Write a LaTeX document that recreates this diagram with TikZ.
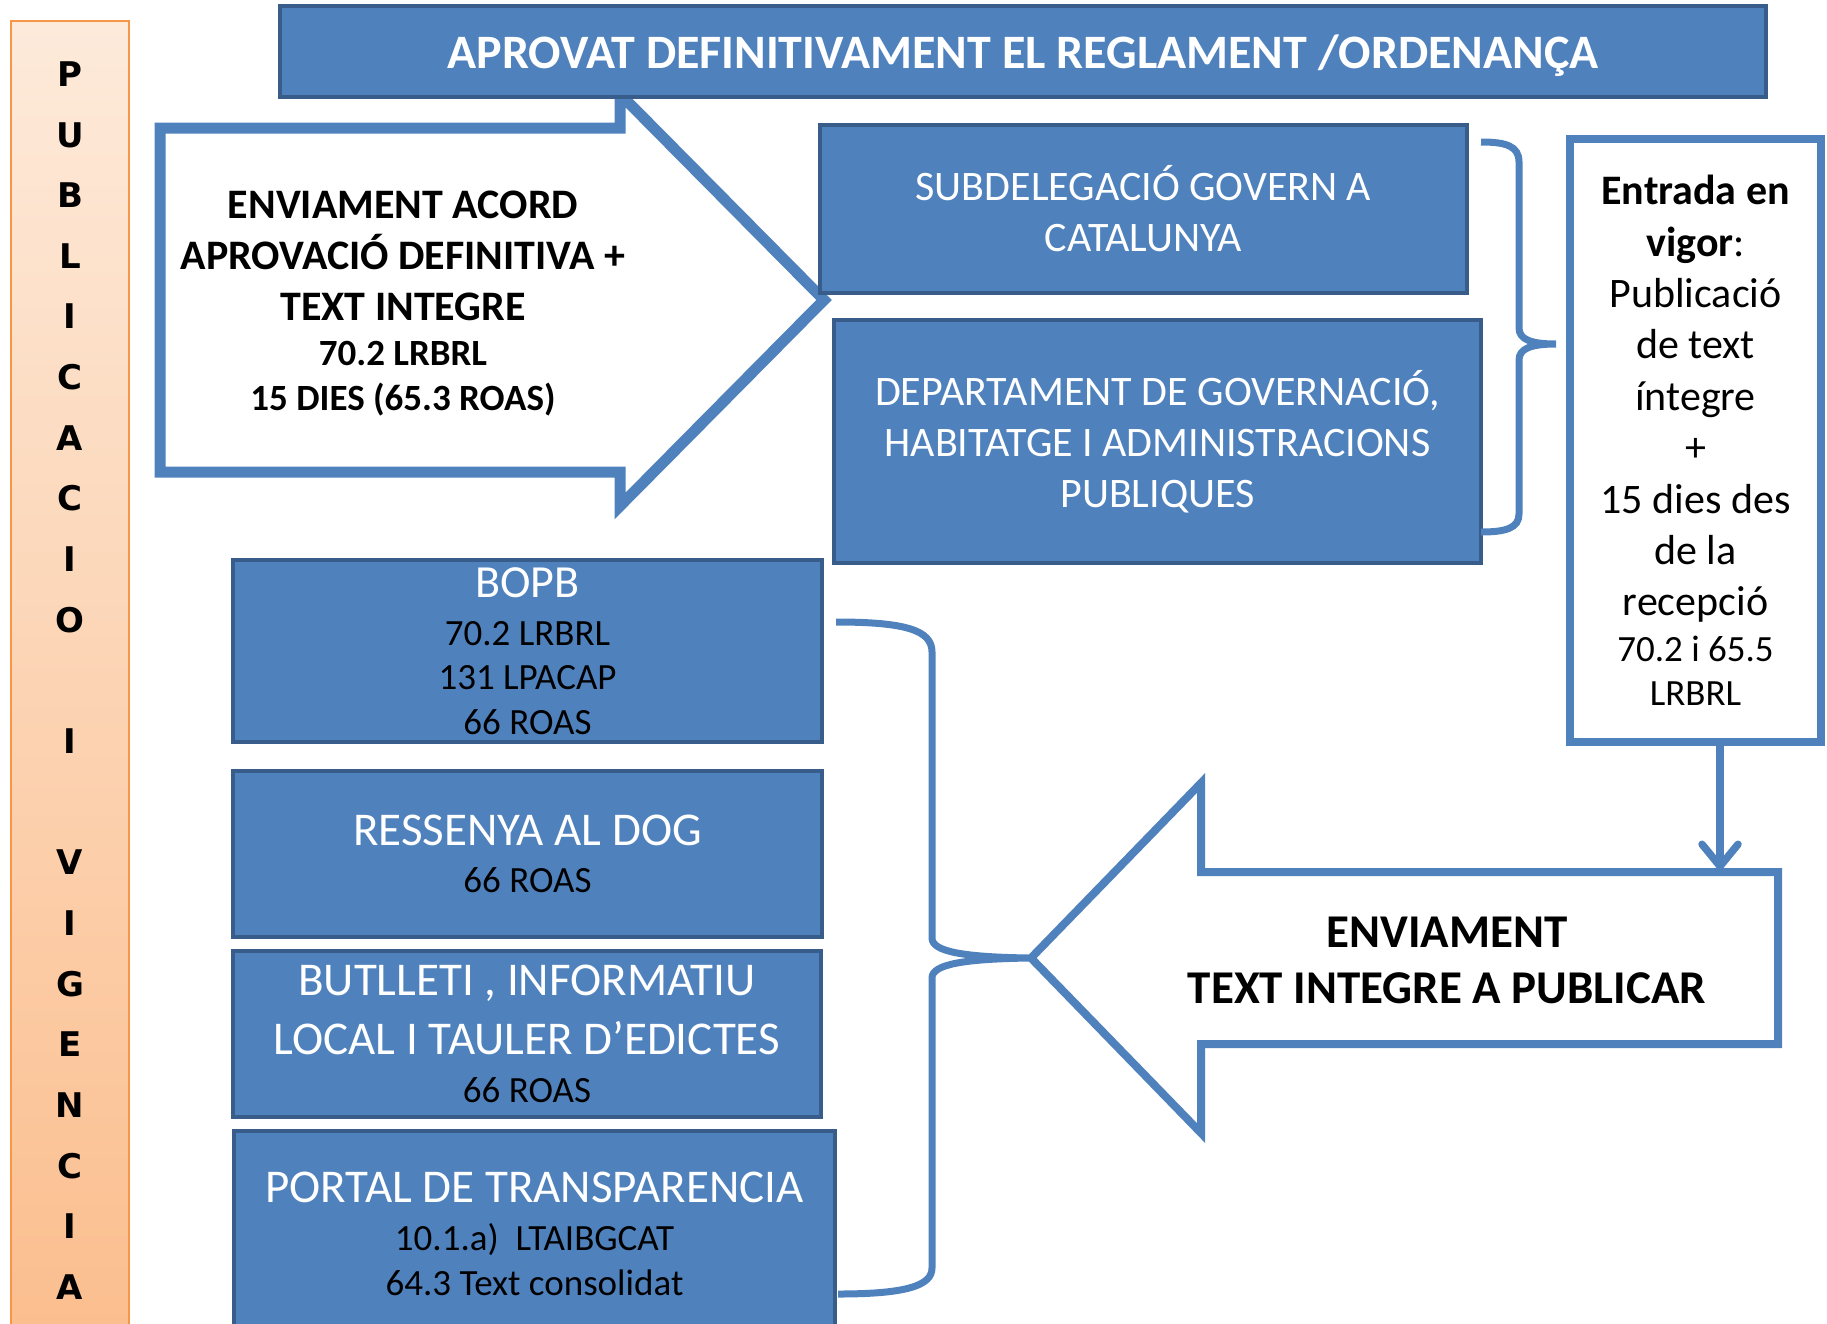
\documentclass[tikz,border=0pt]{standalone}
\usepackage{fontspec}
\setmainfont{Carlito}
\newfontfamily\vfont{DejaVu Sans}
\usetikzlibrary{arrows.meta}
\definecolor{boxblue}{HTML}{4F81BD}
\definecolor{boxedge}{HTML}{385D8A}
\definecolor{barline}{HTML}{F79646}
\definecolor{bartop}{HTML}{FDEADA}
\definecolor{barbot}{HTML}{FBBE8E}
\setlength{\parindent}{0pt}
\newcommand\setfs[2]{\fontsize{#1}{#2}\selectfont}
\newcommand\natspaces{\spaceskip=0pt\xspaceskip=0pt\relax}
\begin{document}
\begin{tikzpicture}[x=1pt,y=-1pt,
  ctext/.style={text width=#1, execute at begin node={\centering\natspaces}},
  bluebox/.style={draw=boxedge, line width=4pt, fill=boxblue, inner sep=0pt, text=white},
  arrowshape/.style={draw=boxblue, fill=white},
  bracestyle/.style={draw=boxblue, line width=7pt},
  conn/.style={draw=boxblue, line width=7.5pt, -{Straight Barb[length=22pt,width=36pt,round]}},
  vbar/.style={draw=barline, line width=2.5pt, top color=bartop, bottom color=barbot, inner sep=0pt},
  plaintext/.style={inner sep=0pt, text=black}]
\useasboundingbox (0,0) rectangle (1827,1323);
\clip (0,0) rectangle (1827,1323);

% vertical orange bar
\node[vbar, minimum width=118, minimum height=1319, ctext=100,
      font=\vfont\bfseries\setfs{34}{60.65}] (bar) at (70,680.5)
 {P\par U\par B\par L\par I\par C\par A\par C\par I\par O\par\mbox{}\par I\par\mbox{}\par V\par I\par G\par E\par N\par C\par I\par A\par};

% first (right-pointing) arrow
\draw[arrowshape, line width=11pt] (160,128) -- (620,128) -- (620,94) -- (824,300) -- (620,506) -- (620,472) -- (160,472) -- cycle;
\node[plaintext, ctext=520, font=\bfseries] (envacord) at (403,304)
 {\setfs{42}{51}ENVIAMENT ACORD\par APROVACIÓ DEFINITIVA +\par TEXT INTEGRE\par\setfs{37}{45}70.2 LRBRL\par 15 DIES (65.3 ROAS)\par};

% title
\node[bluebox, minimum width=1486, minimum height=91, ctext=1400, text depth=0pt, font=\bfseries] (title) at (1023,51.5)
 {\setfs{48}{58}APROVAT DEFINITIVAMENT EL REGLAMENT /ORDENANÇA\par};

% receivers
\node[bluebox, minimum width=647, minimum height=168, ctext=620] (subdel) at (1143.5,209)
 {\setfs{42}{51}SUBDELEGACIÓ GOVERN A\par CATALUNYA\par};
\node[bluebox, minimum width=647, minimum height=243, ctext=620] (dept) at (1157.5,441.5)
 {\setfs{42}{51}DEPARTAMENT DE GOVERNACIÓ,\par HABITATGE I ADMINISTRACIONS\par PUBLIQUES\par};

% right brace
\draw[bracestyle] (1481,142) .. controls (1506,142) and (1519,146) .. (1519,162) -- (1519,328)
  .. controls (1519,339) and (1530,344) .. (1556,344)
  .. controls (1530,344) and (1519,349) .. (1519,360) -- (1519,514)
  .. controls (1519,528) and (1506,532) .. (1481,532);

% entrada en vigor
\node[draw=boxblue, line width=7.5pt, fill=white, plaintext, minimum width=251, minimum height=603, ctext=245] (entrada) at (1695.5,440.5)
 {\setfs{42}{51.4}\textbf{Entrada en}\par\textbf{vigor}:\par Publicació\par de text\par íntegre\par +\par 15 dies des\par de la\par recepció\par
  \setfs{37}{46}70.2 i 65.5\par\setfs{37}{44}LRBRL\par};

% second (left-pointing) arrow
\draw[arrowshape, line width=8pt] (1031,958) -- (1201,783) -- (1201,872) -- (1778,872) -- (1778,1044) -- (1201,1044) -- (1201,1133) -- cycle;
\coordinate (arrtop) at (1720,870);
\node[plaintext, ctext=600, font=\bfseries] (envtext) at (1447,960)
 {\setfs{47}{56}ENVIAMENT\par TEXT INTEGRE A PUBLICAR\par};
\draw[conn] (entrada.south -| arrtop) -- (arrtop);

% publication boxes
\node[bluebox, minimum width=589, minimum height=182, ctext=560] (bopb) at (527.5,651)
 {\setfs{46}{56}BOPB\par\setfs{37}{48}\textcolor{black}{70.2 LRBRL}\par\setfs{37}{44}\textcolor{black}{131 LPACAP}\par\setfs{37}{45}\textcolor{black}{66 ROAS}\par};
\node[bluebox, minimum width=589, minimum height=166, ctext=560] (dog) at (527.5,854)
 {\setfs{47}{57}RESSENYA AL DOG\par\setfs{37}{47}\textcolor{black}{66 ROAS}\par};
\node[bluebox, minimum width=588, minimum height=166, ctext=560] (butlleti) at (527,1034)
 {\setfs{47}{57}BUTLLETI , INFORMATIU\par\setfs{47}{59}LOCAL I TAULER D’EDICTES\par\setfs{37}{48}\textcolor{black}{66 ROAS}\par};
\node[bluebox, minimum width=601, minimum height=205, ctext=580] (portal) at (534.5,1233.5)
 {\setfs{47}{57}PORTAL DE TRANSPARENCIA\par\setfs{37}{48}\textcolor{black}{10.1.a)\ \ LTAIBGCAT}\par\setfs{37}{45}\textcolor{black}{64.3 Text consolidat}\par};

% left brace
\draw[bracestyle] (836,622) .. controls (905,622) and (932,630) .. (932,652) -- (932,938)
  .. controls (932,952) and (965,957) .. (1029,958)
  .. controls (965,959) and (932,964) .. (932,978) -- (932,1268)
  .. controls (932,1286) and (905,1294) .. (838,1294);
\end{tikzpicture}
\end{document}
